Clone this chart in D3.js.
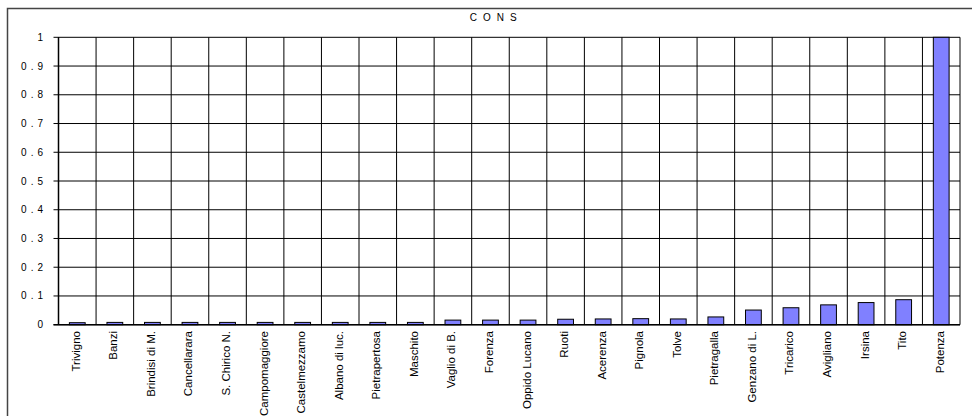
<!DOCTYPE html>
<html>
<head>
<meta charset="utf-8">
<script src="https://cdn.jsdelivr.net/npm/d3@7"></script>
<style>
  html, body { margin: 0; padding: 0; background: #fff; }
  svg { display: block; font-family: "Liberation Sans", Arial, sans-serif; }
</style>
</head>
<body>
<svg id="chart" width="972" height="416"></svg>
<script>
// Municipalities, sorted by indicator value
const categories = [
  "Trivigno", "Banzi", "Brindisi di M.", "Cancellarara", "S. Chirico N.",
  "Campomaggiore", "Castelmezzamo", "Albano di luc.", "Pietrapertosa", "Maschito",
  "Vaglio di B.", "Forenza", "Oppido Lucano", "Ruoti", "Acerenza",
  "Pignola", "Tolve", "Pietragalla", "Genzano di L.", "Tricarico",
  "Avigliano", "Irsina", "Tito", "Potenza"
];
const consValues = [
  0.007, 0.008, 0.008, 0.008, 0.008,
  0.008, 0.008, 0.008, 0.008, 0.008,
  0.016, 0.016, 0.016, 0.019, 0.020,
  0.021, 0.020, 0.027, 0.051, 0.059,
  0.069, 0.077, 0.087, 1.0
];
const yTicks = [0, 0.1, 0.2, 0.3, 0.4, 0.5, 0.6, 0.7, 0.8, 0.9, 1];
const chartTitle = "C O N S";

const svg = d3.select("#chart");

// Outer chart frame (runs past the window on the right and bottom)
svg.append("rect")
  .attr("x", 7.5).attr("y", 8.5)
  .attr("width", 1000).attr("height", 500)
  .attr("fill", "none")
  .attr("stroke", "#444")
  .attr("stroke-width", 1.5);

const plot = { left: 58.5, right: 960, top: 37.3, bottom: 324.7 };

const x = d3.scaleBand()
  .domain(categories)
  .range([plot.left, plot.right])
  .padding(0);

const y = d3.scaleLinear()
  .domain([0, 1])
  .range([plot.bottom, plot.top]);

// Title
svg.append("text")
  .attr("x", 494)
  .attr("y", 21)
  .attr("text-anchor", "middle")
  .attr("font-size", 10)
  .attr("letter-spacing", "1.6px")
  .attr("fill", "#000")
  .text(chartTitle);

// Horizontal gridlines with short outward ticks
svg.append("g")
  .selectAll("line")
  .data(yTicks)
  .join("line")
  .attr("x1", plot.left - 5)
  .attr("x2", plot.right)
  .attr("y1", d => y(d))
  .attr("y2", d => y(d))
  .attr("stroke", "#000")
  .attr("stroke-width", 1);

// Vertical gridlines at category boundaries
const boundaries = categories.map(c => x(c)).concat([x.range()[1]]);
svg.append("g")
  .selectAll("line")
  .data(boundaries)
  .join("line")
  .attr("x1", d => d)
  .attr("x2", d => d)
  .attr("y1", plot.top)
  .attr("y2", plot.bottom)
  .attr("stroke", "#000")
  .attr("stroke-width", 1);

// Y tick labels
svg.append("g")
  .selectAll("text")
  .data(yTicks)
  .join("text")
  .attr("x", 47)
  .attr("y", d => y(d))
  .attr("dy", "0.35em")
  .attr("text-anchor", "end")
  .attr("font-size", 10)
  .attr("letter-spacing", "4px")
  .attr("fill", "#000")
  .text(d => d3.format("~g")(d));

// Bars
const barW = x.bandwidth() * 0.42;
svg.append("g")
  .selectAll("rect")
  .data(categories.map((c, i) => ({ c, v: consValues[i] })))
  .join("rect")
  .attr("x", d => x(d.c) + (x.bandwidth() - barW) / 2)
  .attr("y", d => y(d.v))
  .attr("width", barW)
  .attr("height", d => y(0) - y(d.v))
  .attr("fill", "#8080ff")
  .attr("stroke", "#000")
  .attr("stroke-width", 1);

// Axis lines
svg.append("line")
  .attr("x1", plot.left).attr("x2", plot.left)
  .attr("y1", plot.top).attr("y2", plot.bottom)
  .attr("stroke", "#000").attr("stroke-width", 1.5);
svg.append("line")
  .attr("x1", plot.left - 5).attr("x2", plot.right)
  .attr("y1", plot.bottom).attr("y2", plot.bottom)
  .attr("stroke", "#000").attr("stroke-width", 1.5);

// Category labels, rotated
svg.append("g")
  .selectAll("text")
  .data(categories)
  .join("text")
  .attr("transform", d => `translate(${x(d) + x.bandwidth() / 2 + 2.5},331) rotate(-90)`)
  .attr("text-anchor", "end")
  .attr("font-size", 11.5)
  .attr("fill", "#000")
  .text(d => d);
</script>
</body>
</html>
